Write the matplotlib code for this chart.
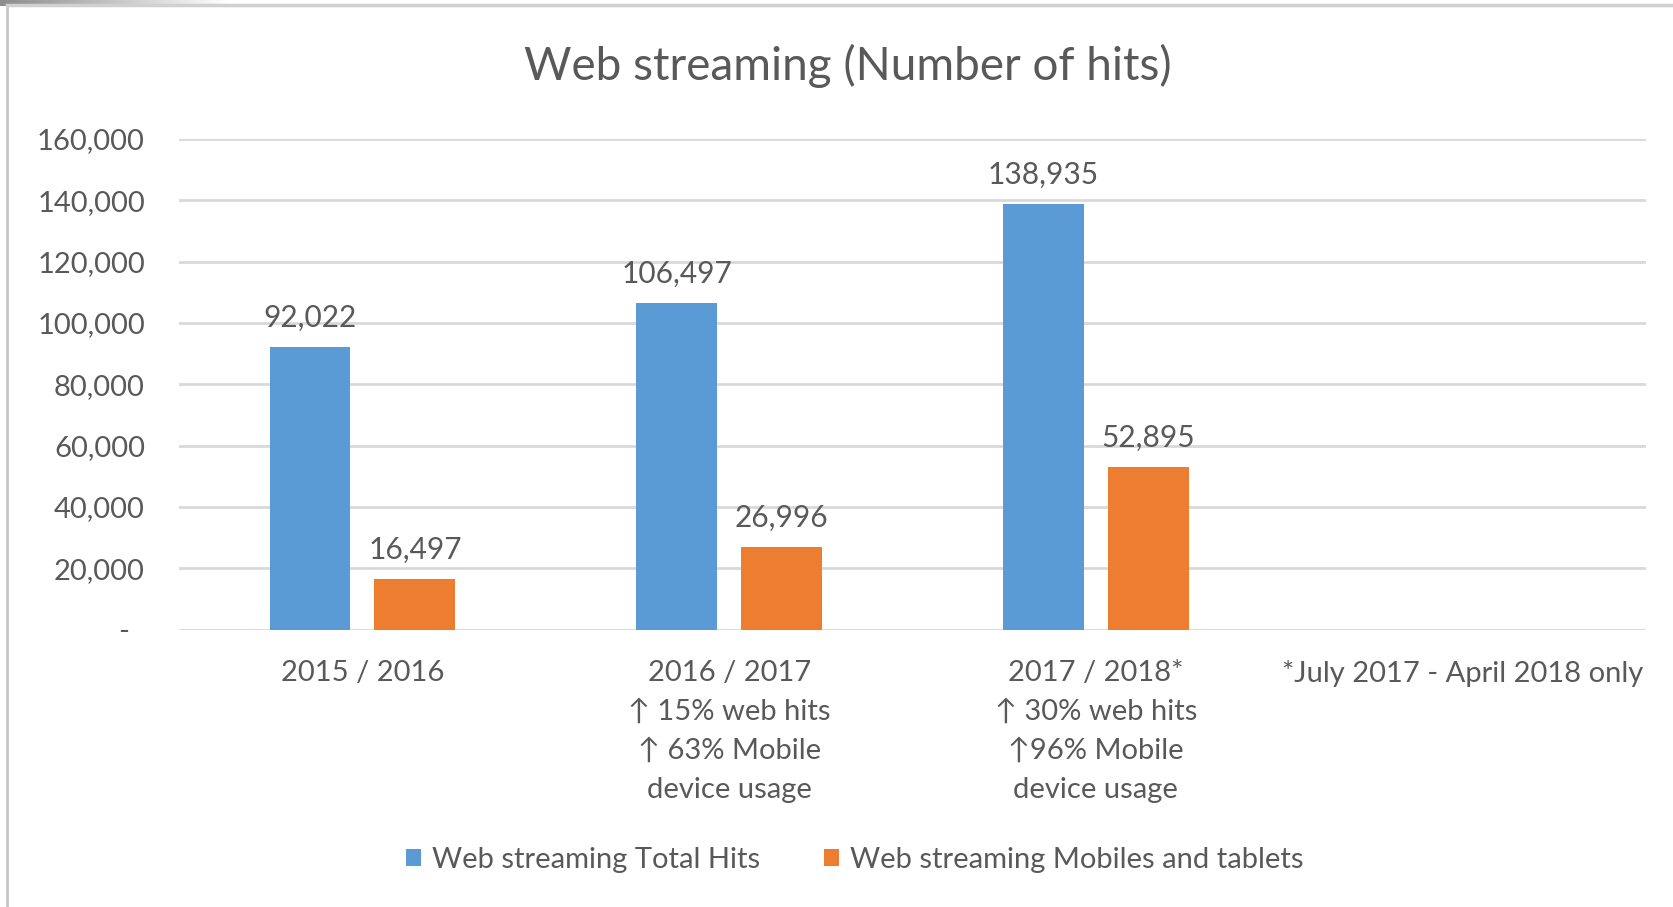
import matplotlib
matplotlib.use("Agg")
import matplotlib.pyplot as plt
import numpy as np
from matplotlib.lines import Line2D
from matplotlib.patches import Patch
from matplotlib.ticker import FuncFormatter

categories = ["2015 / 2016",
              "2016 / 2017\n\u2191 15% web hits\n\u2191 63% Mobile\ndevice usage",
              "2017 / 2018*\n\u2191 30% web hits\n\u219196% Mobile\ndevice usage",
              "*July 2017 - April 2018 only"]
total_hits = [92022, 106497, 138935, None]
mobile_hits = [16497, 26996, 52895, None]
series_names = ["Web streaming Total Hits", "Web streaming Mobiles and tablets"]
title = "Web streaming (Number of hits)"
yticks = [0, 20000, 40000, 60000, 80000, 100000, 120000, 140000, 160000]

BLUE = "#5B9BD5"
ORANGE = "#ED7D31"
TXT = "#595959"
GRID = "#D9D9D9"
FONT = ["Lato", "DejaVu Sans"]
FS = 21

plt.rcParams["font.family"] = FONT

fig = plt.figure(figsize=(16.73, 9.07), dpi=100)
ax = fig.add_axes([179/1673, 277.5/907, (1646-179)/1673, (768-277.5)/907])

w = 0.22
off = 0.143
for i, (t, m) in enumerate(zip(total_hits, mobile_hits)):
    if t is not None:
        ax.bar(i - off, t, width=w, color=BLUE, zorder=3)
        ax.annotate(f"{t:,}", (i - off, t), xytext=(0, 11), textcoords="offset points",
                    ha="center", va="bottom", fontsize=FS + 0.5, color=TXT)
    if m is not None:
        ax.bar(i + off, m, width=w, color=ORANGE, zorder=3)
        ax.annotate(f"{m:,}", (i + off, m), xytext=(0, 11), textcoords="offset points",
                    ha="center", va="bottom", fontsize=FS + 0.5, color=TXT)

ax.set_xlim(-0.5, len(categories) - 0.5)
ax.set_ylim(0, 160000)
ax.set_yticks(yticks)
ax.yaxis.set_major_formatter(FuncFormatter(lambda v, p: "-  " if v == 0 else f"{v:,.0f}"))
ax.set_xticks(range(len(categories)))
ax.set_xticklabels(categories, fontsize=FS, color=TXT, linespacing=1.62, va="top")
ax.tick_params(axis="x", length=0, pad=22)
ax.tick_params(axis="y", length=0, pad=24.5, labelsize=FS, labelcolor=TXT)
for s in ax.spines.values():
    s.set_visible(False)
ax.grid(axis="y", color=GRID, linewidth=2, zorder=0)
ax.set_axisbelow(True)

fig.text(848/1673, 1 - 66/907, title, ha="center", va="center", fontsize=33, color=TXT)

handles = [Patch(facecolor=BLUE), Patch(facecolor=ORANGE)]
leg = fig.legend(handles, series_names, loc="center", bbox_to_anchor=(855/1673, 1 - 860/907),
                 ncol=2, frameon=False, fontsize=FS, handlelength=0.5, handleheight=0.5,
                 handletextpad=0.38, columnspacing=2.2)
for t in leg.get_texts():
    t.set_color(TXT)

# frame of the chart object with a faint shadow at top-left
sh = fig.add_axes([0, 1 - 6/907, 230/1673, 6/907])
grad = np.linspace(0.55, 1.0, 200)[None, :]
sh.imshow(grad, aspect="auto", cmap="gray", vmin=0, vmax=1, extent=[0, 1, 0, 1])
sh.axis("off")
fig.add_artist(Line2D([7/1673, 7/1673], [0, 1 - 5/907], transform=fig.transFigure, color="#C8C8C8", lw=2))
fig.add_artist(Line2D([7/1673, 1], [1 - 5/907, 1 - 5/907], transform=fig.transFigure, color="#D0D0D0", lw=2.5))

fig.savefig("out.png", dpi=100)
